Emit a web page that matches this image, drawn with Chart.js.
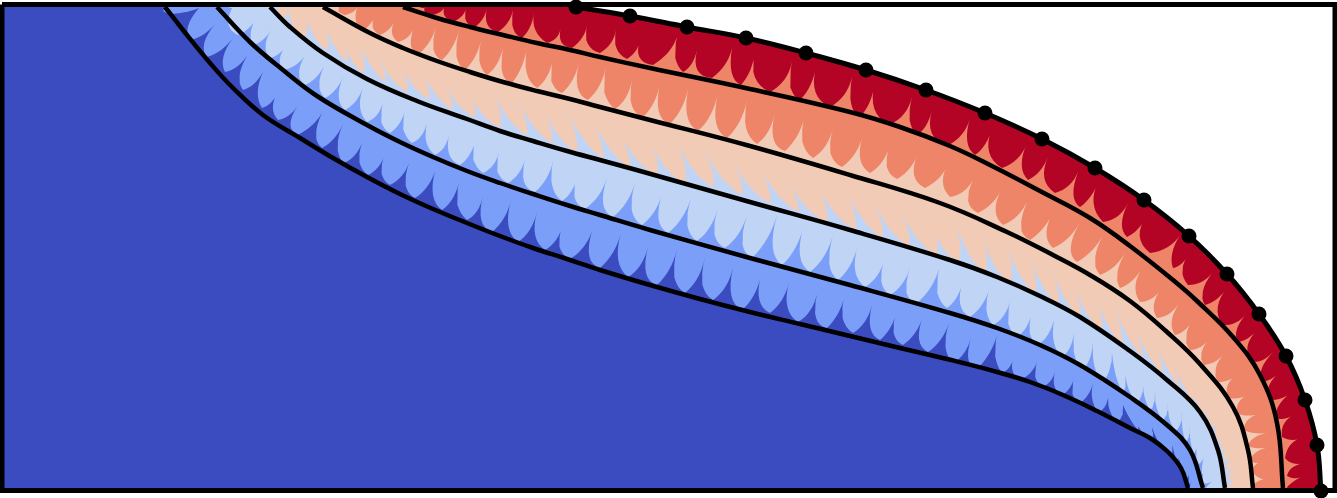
<!DOCTYPE html>
<html>
<head>
<meta charset="utf-8">
<title>Contour plot</title>
<script src="https://cdn.jsdelivr.net/npm/chart.js@4/dist/chart.umd.js"></script>
<style>
html,body{margin:0;padding:0;background:#fff;overflow:hidden}
#wrap{width:1337px;height:498px}
</style>
</head>
<body>
<div id="wrap"><canvas id="chart"></canvas></div>
<script>
// ---------- contour levels ----------
const line1X=[165,183,210,233,263,300,333,367,400,433,467,500,533,567,600,650,700,750,800,850,900,930,963,997,1030,1063,1097,1130,1150,1167,1181,1188];
const line1Y=[7,30,63,88,115,138,158,177,194,209,223,236,248,259,270,285,299,312,324,336,348,355,363,372,382,395,411,428,438,451,468,488];

const line2X=[217,250,283,317,367,400,433,467,500,533,567,600,650,750,850,950,997,1040,1080,1130,1167,1190,1203];
const line2Y=[7,42,70,96,125,142,157,171,183,194,205,215,230,258,285,313,328,345,365,397,425,450,488];

const line3X=[270,290,323,367,417,467,500,533,567,600,633,750,850,950,997,1040,1080,1130,1167,1200,1218,1225];
const line3Y=[7,27,53,79,101,119,131,141,151,160,169,202,230,260,277,296,317,351,380,412,450,488];

const line4X=[323,370,403,437,470,503,537,570,600,650,750,850,940,1007,1053,1090,1130,1167,1200,1233,1248,1253];
const line4Y=[7,33,48,61,72,82,91,99,107,120,146,175,203,232,255,275,301,332,364,407,450,488];

const line5X=[403,437,470,503,537,570,600,650,750,850,900,950,990,1040,1090,1130,1173,1197,1233,1260,1277,1283];
const line5Y=[7,18,27,35,43,50,57,68,89,112,127,146,165,191,218,246,280,301,337,375,423,488];

const outerX=[576,630,687,746,806,866,926,985,1042,1095,1144,1189,1227,1259,1286,1305,1317,1321];
const outerY=[7,16,27,38,53,70,90,113,139,168,200,236,274,314,356,400,445,491];

// ---------- scallop edges: tip of each cusp, then the low point of the lobe after it ----------
const band1TipX=[170,199,215,233,247,263,279,298,322,343,362,385,409,435,459,483,511,537,563,592,621,648,677,705,733,761,789,817,845,872,897,923,949,971,997,1015,1037,1055,1074,1093,1108,1123,1135,1152,1160,1172,1178,1185,1190,1192,1193];
const band1TipY=[5,8,24,38,56,72,90,105,113,124,143,154,163,171,182,196,200,212,224,231,233,247,249,258,268,275,282,294,294,305,310,316,323,338,335,353,362,372,378,383,398,405,417,427,435,442,452,462,468,477,490];
const band1LowX=[172,190,207,225,243,262,278,297,322,343,368,390,415,442,467,492,518,545,570,600,628,657,685,713,742,770,798,827,853,880,903,928,953,978,1002,1020,1042,1062,1080,1098,1118,1138,1150,1162,1170,1178,1184,1187,1189,1190];
const band1LowY=[14,40,57,72,90,108,120,135,148,163,175,185,198,210,220,232,242,250,259,268,277,285,293,300,310,313,322,328,333,340,345,352,363,368,373,380,387,395,403,412,422,430,440,447,455,463,472,478,484,490];

const band2TipX=[225,232,258,271,288,304,324,343,363,383,405,427,449,475,499,525,553,578,607,635,663,691,718,747,777,804,833,858,885,910,939,963,990,1010,1032,1054,1074,1093,1112,1125,1143,1155,1168,1182,1190,1198,1207,1210,1215,1205];
const band2TipY=[5,8,15,30,43,57,66,77,88,103,110,123,135,140,152,159,161,173,178,183,191,198,208,215,215,225,235,245,258,268,269,280,287,302,312,320,333,342,353,370,378,392,402,412,425,437,448,462,478,490];
const band2LowX=[228,238,253,270,283,305,325,345,367,390,412,435,460,483,508,535,562,585,613,642,668,697,725,753,782,810,838,865,890,917,947,970,993,1017,1038,1062,1083,1103,1123,1138,1150,1163,1176,1186,1194,1199,1202,1203,1204];
const band2LowY=[7,35,45,58,70,85,98,110,122,133,143,155,165,173,183,192,201,209,217,225,233,241,248,257,265,272,280,287,295,303,308,317,325,337,345,357,370,382,393,402,410,420,431,442,453,464,474,483,490];

const band3TipX=[278,288,307,325,342,361,379,401,424,445,468,493,517,542,567,592,618,648,677,704,732,760,787,816,845,873,900,928,956,982,1007,1030,1052,1073,1095,1115,1132,1152,1167,1188,1203,1217,1225,1232,1237,1240,1242,1240,1229];
const band3TipY=[5,9,20,27,38,47,58,65,75,85,90,92,98,106,111,120,130,137,142,150,160,168,178,182,188,200,208,213,222,235,245,257,270,283,295,310,323,335,350,378,393,410,425,435,447,458,470,482,490];
const band3LowX=[283,303,327,347,363,385,407,428,452,475,500,527,552,577,603,630,657,685,713,742,770,798,827,855,882,909,937,958,985,1010,1035,1058,1080,1102,1122,1143,1163,1180,1193,1204,1213,1218,1222,1224,1226,1228,1228];
const band3LowY=[20,37,50,62,73,82,92,99,110,117,127,135,143,152,158,168,175,183,187,195,203,212,222,229,238,246,255,262,273,283,293,305,318,332,345,358,373,389,402,414,428,442,452,462,472,480,488];

const band4TipX=[340,357,375,395,413,436,459,482,503,527,553,579,606,632,660,689,718,747,775,805,833,863,890,918,949,973,1002,1027,1055,1080,1105,1127,1143,1162,1178,1193,1210,1225,1240,1253,1265,1270,1270,1266,1267,1255];
const band4TipY=[5,8,14,20,30,27,30,37,48,47,58,62,67,80,83,85,93,100,112,115,128,135,145,153,162,180,188,202,208,222,232,250,267,288,305,320,338,353,372,392,412,432,447,463,480,490];
const band4LowX=[345,363,380,398,420,442,465,487,512,537,562,588,615,643,670,698,727,757,785,813,842,870,897,925,950,978,1003,1030,1053,1077,1100,1120,1140,1157,1175,1190,1204,1218,1228,1238,1244,1248,1250,1252,1254];
const band4LowY=[15,30,35,42,53,60,70,75,83,88,93,100,109,117,124,131,138,144,151,158,167,173,179,188,197,213,225,240,248,262,275,288,302,318,335,350,365,382,398,414,430,446,460,472,484];

const band5TipX=[418,425,444,466,487,513,534,561,587,616,641,677,697,732,755,792,816,852,875,912,932,970,992,1027,1048,1078,1099,1128,1147,1180,1190,1212,1227,1247,1257,1273,1282,1295,1297,1304,1303,1303,1289];
const band5TipY=[5,7,8,8,8,10,13,27,26,30,37,37,50,48,52,62,67,77,83,97,110,118,128,143,157,172,180,203,215,235,253,273,288,313,330,352,370,390,413,437,463,477,490];
const band5LowX=[422,433,455,475,498,522,547,572,600,627,653,683,712,741,770,800,830,860,889,917,947,975,1002,1028,1055,1080,1103,1127,1150,1173,1188,1205,1222,1237,1250,1261,1269,1275,1282,1285,1287,1288];
const band5LowY=[8,15,21,27,32,38,43,48,53,59,65,72,78,85,92,100,107,117,125,135,146,155,168,180,193,207,222,237,253,268,285,305,325,342,362,382,400,418,437,458,476,486];

const frameX=[2,1335,1335,2,2];
const frameY=[4.5,4.5,490.5,490.5,4.5];

const groundX=[2,1337,1337,2];
const groundY=[5,5,490,490];
const cornerX=[1337,1337];
const cornerY=[490,5];

const bandColors=["#7b9ff9","#c0d4f5","#f2cbb7","#ee8468","#b40426"];

function zipPoints(xs,ys){
    return xs.map((x,i)=>({x:x,y:ys[i]}));
}

// outline of one lobe between two read tips and its read low point:
// steep left edge, round bottom, long concave climb into the next tip
function lobeOutline(pts,ax,ay,lx,ly,bx,by){
    const cx=bx-ax,cy=by-ay;
    const px=lx-(ax+.3*cx),py=ly-(ay+.3*cy);
    const c1x=ax-.3*cx+.9*px,c1y=ay-.3*cy+.9*py;
    const c2x=ax+.82*cx+.6*px,c2y=ay+.82*cy+.6*py;
    for(let i=0;i<8;i++){
        const t=i/8,u=1-t;
        pts.push({x:u*u*ax+2*u*t*c1x+t*t*lx,y:u*u*ay+2*u*t*c1y+t*t*ly});
    }
    for(let i=0;i<8;i++){
        const t=i/8,u=1-t;
        pts.push({x:u*u*lx+2*u*t*c2x+t*t*bx,y:u*u*ly+2*u*t*c2y+t*t*by});
    }
}

function scallopShape(tipX,tipY,lowX,lowY){
    const pts=[];
    lowX.forEach((x,i)=>{
        lobeOutline(pts,tipX[i],tipY[i],x,lowY[i],tipX[i+1],tipY[i+1]);
    });
    const last=tipX.length-1;
    pts.push({x:tipX[last],y:tipY[last]});
    cornerX.forEach((x,i)=>pts.push({x:x,y:cornerY[i]}));
    return pts;
}

function fillSet(points,color,order,tension){
    return {
        data:points,
        showLine:true,
        fill:"shape",
        backgroundColor:color,
        borderWidth:0,
        pointRadius:0,
        tension:tension,
        order:order
    };
}

function lineSet(xs,ys,width,order){
    return {
        data:zipPoints(xs,ys),
        showLine:true,
        fill:false,
        borderColor:"#000",
        borderWidth:width,
        pointRadius:0,
        tension:.4,
        order:order
    };
}

const outerSet=lineSet(outerX,outerY,5,1);
outerSet.pointRadius=7.5;
outerSet.pointBackgroundColor="#000";
outerSet.pointBorderWidth=0;

// white outside the outer curve; the corners go in twice to stay square
const whitePts=zipPoints(outerX,outerY);
cornerX.forEach((x,i)=>{
    whitePts.push({x:x,y:cornerY[i]},{x:x,y:cornerY[i]});
});

const datasets=[
    fillSet(zipPoints(groundX,groundY),"#3a4cc0",20,0),
    fillSet(scallopShape(band1TipX,band1TipY,band1LowX,band1LowY),bandColors[0],19,0),
    fillSet(scallopShape(band2TipX,band2TipY,band2LowX,band2LowY),bandColors[1],18,0),
    fillSet(scallopShape(band3TipX,band3TipY,band3LowX,band3LowY),bandColors[2],17,0),
    fillSet(scallopShape(band4TipX,band4TipY,band4LowX,band4LowY),bandColors[3],16,0),
    fillSet(scallopShape(band5TipX,band5TipY,band5LowX,band5LowY),bandColors[4],15,0),
    fillSet(whitePts,"#fff",14,.4),
    lineSet(line1X,line1Y,4.5,7),
    lineSet(line2X,line2Y,4.5,6),
    lineSet(line3X,line3Y,4.5,5),
    lineSet(line4X,line4Y,4.5,4),
    lineSet(line5X,line5Y,4.5,3),
    Object.assign(lineSet(frameX,frameY,5,2),{tension:0}),
    outerSet
];

new Chart(document.getElementById("chart"),{
    type:"scatter",
    data:{datasets:datasets},
    options:{
        animation:false,
        responsive:true,
        maintainAspectRatio:false,
        events:[],
        layout:{padding:0,autoPadding:false},
        plugins:{
            legend:{display:false},
            tooltip:{enabled:false}
        },
        scales:{
            x:{type:"linear",display:false,min:0,max:1337},
            y:{type:"linear",display:false,min:0,max:498,reverse:true}
        }
    }
});
</script>
</body>
</html>
